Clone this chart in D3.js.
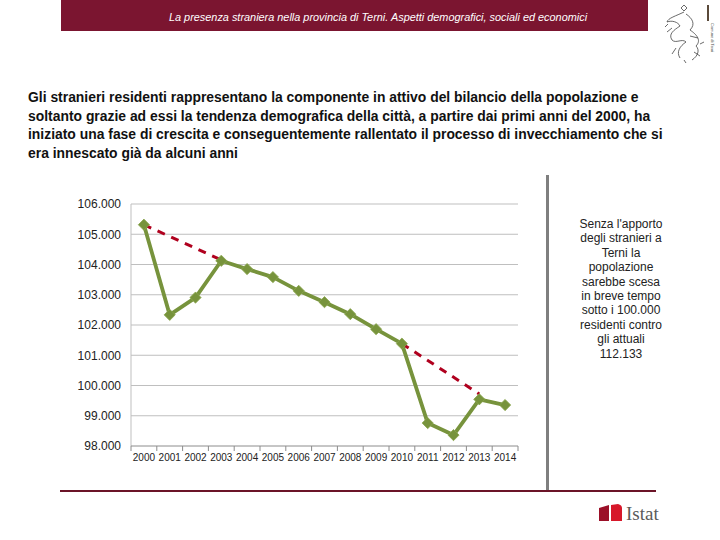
<!DOCTYPE html>
<html><head><meta charset="utf-8">
<script src="https://cdn.jsdelivr.net/npm/d3@7"></script>
<style>
html,body{margin:0;padding:0;background:#fff;}
svg{display:block;font-family:"Liberation Sans",Arial,sans-serif;}
</style></head>
<body>
<svg id="c" width="720" height="540"></svg>
<script>
const years = ["2000","2001","2002","2003","2004","2005","2006","2007","2008","2009","2010","2011","2012","2013","2014"];
const population = [105315,102335,102907,104123,103848,103583,103129,102755,102358,101861,101384,98758,98361,99543,99354];
const trendA = [{year:"2000",value:105315},{year:"2003",value:104150}];
const trendB = [{year:"2010",value:101384},{year:"2013",value:99720}];
const yTicks = [98000,99000,100000,101000,102000,103000,104000,105000,106000];
const headerTitle = "La presenza straniera nella provincia di Terni. Aspetti demografici, sociali ed economici";
const paragraph = [
 "Gli stranieri residenti rappresentano la componente in attivo del bilancio della popolazione e",
 "soltanto grazie ad essi la tendenza demografica della città, a partire dai primi anni del 2000, ha",
 "iniziato una fase di crescita e conseguentemente rallentato il processo di invecchiamento che si",
 "era innescato già da alcuni anni"
];
const note = ["Senza l'apporto","degli stranieri a","Terni la","popolazione","sarebbe scesa","in breve tempo","sotto i 100.000","residenti contro","gli attuali","112.133"];

const svg = d3.select("#c");
const fmtK = d => (d/1000).toFixed(3);

// header bar
svg.append("rect").attr("x",61).attr("y",0).attr("width",587).attr("height",31).attr("fill","#7b1530");
svg.append("text").attr("x",378).attr("y",21).attr("text-anchor","middle")
  .attr("fill","#fff").attr("font-size",10.9).attr("font-style","italic").text(headerTitle);

// logo approximation (top-right)
const lg = svg.append("g").attr("fill","none").attr("stroke","#444").attr("stroke-width",0.8);
lg.append("path").attr("d","M681,8 l3,-3 l3,3 l-3,3z M684,12 C676,16 668,18 667,22 C672,20 678,22 680,26 C674,30 668,34 672,40 C676,44 682,38 686,42 C680,46 676,52 680,58 M686,14 C692,18 696,24 690,30 C696,34 702,40 696,46 C700,50 698,56 692,60 M672,28 l-5,4 M690,36 l8,2 M676,48 l-4,6 M694,52 l6,4 M668,24 l-3,3 M700,44 l4,-2 M684,60 l2,3");
svg.append("rect").attr("x",707).attr("y",5).attr("width",2).attr("height",16).attr("fill","#5a4a3a");
svg.append("text").attr("transform","translate(711,23) rotate(90)").attr("font-size",4).attr("fill","#444").text("Comune di Terni");

// paragraph
const pt = svg.append("text").attr("x",28).attr("font-size",13.9).attr("font-weight","bold").attr("fill","#111");
paragraph.forEach((l,i)=>pt.append("tspan").attr("x",28).attr("y",102+i*18.5).text(l));

// chart
const x = d3.scaleBand().domain(years).range([131,518]).padding(0);
const y = d3.scaleLinear().domain([98000,106000]).range([446,204]);
const cx = d => x(d)+x.bandwidth()/2;

// gridlines
svg.append("g").selectAll("line").data(yTicks.filter(t=>t>98000)).join("line")
  .attr("x1",131).attr("x2",518).attr("y1",d=>y(d)).attr("y2",d=>y(d))
  .attr("stroke","#bfbfbf").attr("stroke-width",1);
svg.append("line").attr("x1",131).attr("x2",131).attr("y1",204).attr("y2",446).attr("stroke","#bfbfbf");

// y axis labels
const yAxis = d3.axisLeft(y).tickValues(yTicks).tickSize(0).tickPadding(10).tickFormat(fmtK);
const ya = svg.append("g").attr("transform","translate(131,0)").call(yAxis);
ya.select(".domain").remove();
ya.selectAll("text").attr("font-size",12).attr("fill","#222").attr("font-family","Liberation Sans, Arial, sans-serif");

// x axis
svg.append("line").attr("x1",131).attr("x2",518).attr("y1",446).attr("y2",446).attr("stroke","#8c8c8c");
svg.append("g").selectAll("line").data(years.concat(["end"])).join("line")
  .attr("x1",(d,i)=>131+i*x.bandwidth()).attr("x2",(d,i)=>131+i*x.bandwidth())
  .attr("y1",446).attr("y2",451).attr("stroke","#8c8c8c");
const xAxis = d3.axisBottom(x).tickSize(0).tickPadding(8);
const xa = svg.append("g").attr("transform","translate(0,446)").call(xAxis);
xa.select(".domain").remove();
xa.selectAll("text").attr("font-size",10).attr("fill","#222").attr("font-family","Liberation Sans, Arial, sans-serif");

// dashed trends
const tl = d3.line().x(d=>cx(d.year)).y(d=>y(d.value));
[trendA,trendB].forEach(t=>{
  svg.append("path").attr("d",tl(t)).attr("fill","none").attr("stroke","#b0001e")
    .attr("stroke-width",3).attr("stroke-dasharray","8,7");
});

// main line
const data = years.map((yr,i)=>({year:yr,value:population[i]}));
svg.append("path").attr("d",tl(data)).attr("fill","none").attr("stroke","#77933c")
  .attr("stroke-width",3.8).attr("stroke-linejoin","round");
svg.append("g").selectAll("path").data(data).join("path")
  .attr("transform",d=>`translate(${cx(d.year)},${y(d.value)})`)
  .attr("d",d3.symbol(d3.symbolDiamond2 || d3.symbolDiamond,80)())
  .attr("fill","#77933c").attr("stroke","#8aa64e").attr("stroke-width",0.8);

// side note
svg.append("rect").attr("x",546).attr("y",175).attr("width",3).attr("height",315).attr("fill","#7f7f7f");
const nt = svg.append("text").attr("font-size",12).attr("fill","#222").attr("text-anchor","middle");
note.forEach((l,i)=>nt.append("tspan").attr("x",621).attr("y",228+i*14.4).text(l));

// bottom rule
svg.append("rect").attr("x",60).attr("y",490).attr("width",596).attr("height",2).attr("fill","#6b1428");

// Istat logo
svg.append("path").attr("d","M599,508 L609,505 L609,521 L599,521 Z").attr("fill","#9b1028");
svg.append("path").attr("d","M611,505 L618,504 Q622,505 622,508 L622,521 L611,521 Z").attr("fill","#d7182a");
svg.append("text").attr("x",626).attr("y",520).attr("font-family","Liberation Serif, Times New Roman, serif")
  .attr("font-size",19).attr("fill","#5a5a5a").text("Istat");
</script>
</body></html>
